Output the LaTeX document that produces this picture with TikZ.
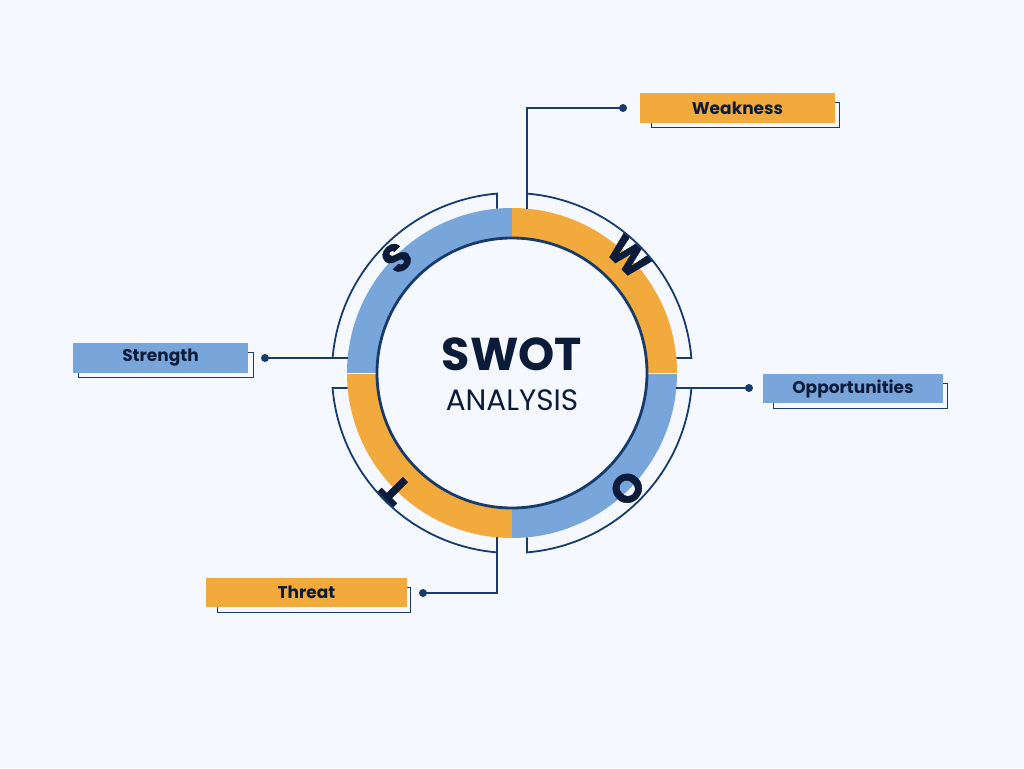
\documentclass[tikz,border=0pt]{standalone}
\usepackage{fontspec}
\newfontfamily\pop{Poppins}
\newfontfamily\popheavy{Poppins}[FakeBold=1.2]
\definecolor{bg}{HTML}{F5F8FE}
\definecolor{sblue}{HTML}{78A6DB}
\definecolor{sorange}{HTML}{F3AA3D}
\definecolor{navy}{HTML}{0B1B3A}
\definecolor{lnc}{HTML}{173B6C}
\tikzset{
  wire/.style={draw=lnc, line width=1.8pt},
  bracket/.style={draw=lnc, line width=1.8pt},
  dotnode/.style={circle, fill=lnc, inner sep=0pt, minimum size=8pt},
  labelbox/.style={font=\pop\bfseries\fontsize{17}{20}\selectfont, text=navy},
  shadowbox/.style={draw=lnc, line width=0.8pt},
  ringletter/.style={font=\popheavy\bfseries\fontsize{40}{42}\selectfont, text=navy, inner sep=0pt},
}
\begin{document}
\begin{tikzpicture}[x=1pt,y=1pt]
\useasboundingbox[fill=bg] (-512,-395) rectangle (512,373);
% ring sectors
\fill[sblue] (90:165) arc[start angle=90,end angle=180,radius=165] -- (180:134) arc[start angle=180,end angle=90,radius=134] -- cycle;
\fill[sorange] (0:165) arc[start angle=0,end angle=90,radius=165] -- (90:134) arc[start angle=90,end angle=0,radius=134] -- cycle;
\fill[sorange] (180:165) arc[start angle=180,end angle=270,radius=165] -- (270:134) arc[start angle=270,end angle=180,radius=134] -- cycle;
\fill[sblue] (270:165) arc[start angle=270,end angle=360,radius=165] -- (0:134) arc[start angle=0,end angle=-90,radius=134] -- cycle;
\draw[bg, line width=1pt] (-166,0) -- (-133,0) (133,0) -- (166,0);
\fill[bg] (0,0) circle[radius=134];
\draw[lnc, line width=2.8pt] (0,0) circle[radius=135];
% centre text
\node[font=\pop\bfseries\fontsize{46}{50}\selectfont, text=navy] (swot) at (0,19) {SWOT};
\node[font=\pop\fontsize{29.5}{32}\selectfont, text=navy] (analysis) at (0,-27) {ANALYSIS};
% letters on ring
\node[ringletter, rotate=45] (lS) at (135:163) {S};
\node[ringletter, rotate=-45] (lW) at (45:165) {W};
\node[ringletter, rotate=-135] (lO) at (-45:163) {O};
\node[ringletter, rotate=135] (lT) at (225:165) {T};
% bracket arcs
\draw[bracket] (-15,164.3) -- (-15,179.4) arc[start angle=94.78,end angle=175.22,radius=180] -- (-164.3,15);
\draw[bracket] (15,179.4) arc[start angle=85.22,end angle=4.78,radius=180] -- (164.3,15);
\draw[bracket] (164.3,-15) -- (179.4,-15) arc[start angle=-4.78,end angle=-85.22,radius=180] -- (15,-164.3);
\draw[bracket] (-164.3,-15) -- (-179.4,-15) arc[start angle=184.78,end angle=265.22,radius=180] -- (-15,-164.3);
% ring anchor coordinates
\coordinate (rW) at (15,164.3);
\coordinate (rS) at (-164.3,15);
\coordinate (rO) at (164.3,-15);
\coordinate (rT) at (-15,-164.3);
% dots
\node[dotnode] (dW) at (111,265) {};
\node[dotnode] (dS) at (-247,15) {};
\node[dotnode] (dO) at (237,-15) {};
\node[dotnode] (dT) at (-89,-220) {};
% connectors
\draw[wire] (dW.center) -| (rW);
\draw[wire] (dS.center) -- (rS);
\draw[wire] (dO.center) -- (rO);
\draw[wire] (dT.center) -| (rT);
% label boxes
\draw[shadowbox] (139,246) rectangle (327,271);
\fill[sorange] (128,250) rectangle (323,280);
\node[labelbox] (bW) at (225.5,265) {Weakness};
\draw[shadowbox] (-434,-4) rectangle (-259,21);
\fill[sblue] (-439,0) rectangle (-264,30);
\node[labelbox] (bS) at (-351.5,15) {Strength};
\draw[shadowbox] (261,-35) rectangle (435,-10);
\fill[sblue] (251,-30) rectangle (431,-1);
\node[labelbox] (bO) at (341,-15.5) {Opportunities};
\draw[shadowbox] (-295,-239) rectangle (-102,-214);
\fill[sorange] (-306,-234) rectangle (-105,-205);
\node[labelbox] (bT) at (-205.5,-219.5) {Threat};
\end{tikzpicture}
\end{document}
